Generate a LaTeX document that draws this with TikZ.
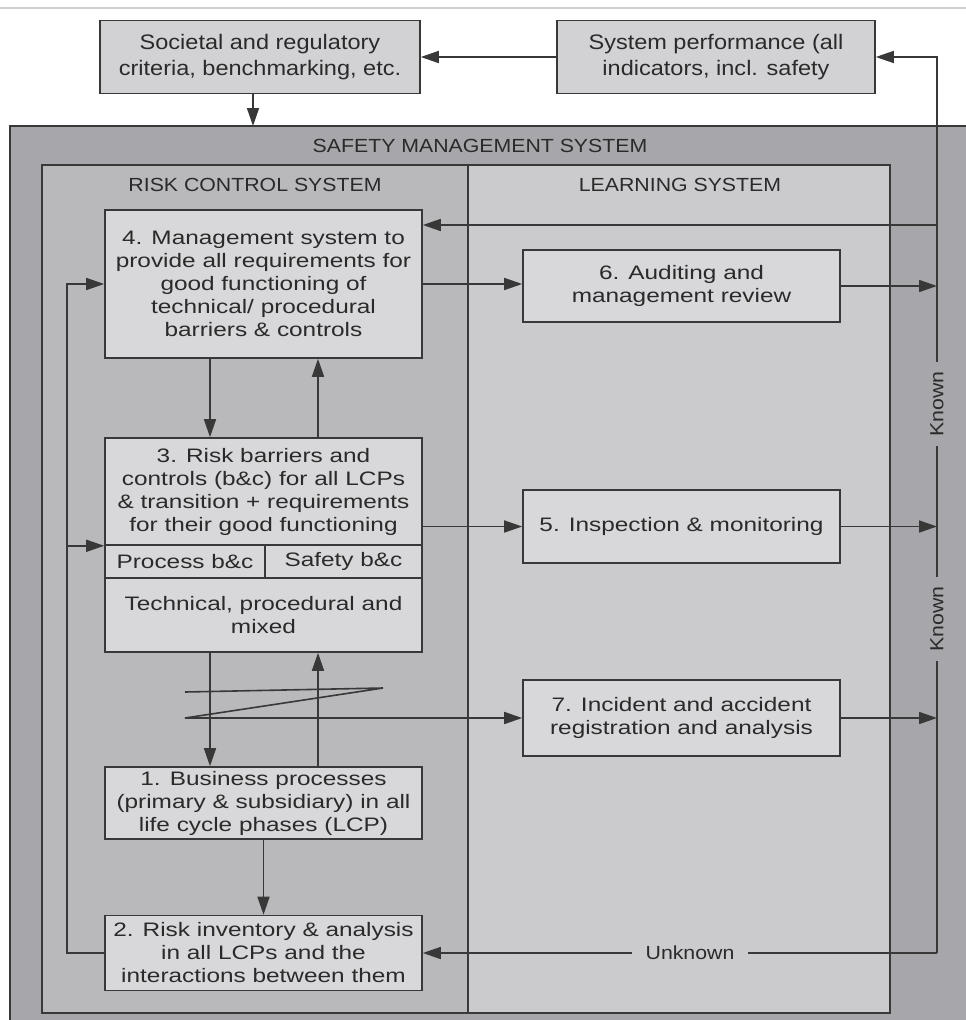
\documentclass[tikz,border=0pt]{standalone}
\usepackage{fontspec}
\usetikzlibrary{arrows.meta}
\newfontfamily\nf[FakeStretch=1.12]{Liberation Sans}
\newfontfamily\wf[FakeStretch=1.25]{Liberation Sans}
\definecolor{outercol}{HTML}{A7A7AB}
\definecolor{riskcol}{HTML}{B9B9BC}
\definecolor{learncol}{HTML}{CBCBCD}
\definecolor{boxcol}{HTML}{D8D8DA}
\definecolor{topcol}{HTML}{D2D2D4}
\definecolor{linecol}{HTML}{383838}
\definecolor{textcol}{HTML}{2A2A2A}
\tikzset{
  box/.style={draw=linecol, line width=1.6pt, fill=boxcol, inner sep=0pt, align=center,
    text=textcol, font=\fontsize{19.5}{23}\wf},
  topbox/.style={box, fill=topcol, font=\fontsize{21}{26}\nf},
  region/.style={draw=linecol, line width=1.4pt},
  title/.style={text=textcol, font=\fontsize{19}{23}\nf, inner sep=0pt},
  arr/.style={draw=linecol, line width=1.6pt, -{Triangle[length=18pt,width=12pt]}},
  lbl/.style={text=textcol, font=\fontsize{19}{23}\nf, inner sep=0pt}
}
\begin{document}
\begin{tikzpicture}[x=1pt,y=-1pt]
\useasboundingbox (0,0) rectangle (966,1020);
\fill[white] (0,0) rectangle (966,1020);
\draw[line width=2pt, draw=black!18] (0,8) -- (966,8);
% regions
\draw[region, fill=outercol] (10,126) rectangle (980,1035);
\draw[region, fill=riskcol] (42,165) rectangle (468,1013);
\draw[region, fill=learncol] (468,165) rectangle (890,1013);
\node[title] (smst) at (480,146) {SAFETY MANAGEMENT SYSTEM};
\node[title] (rcst) at (255,185) {RISK CONTROL SYSTEM};
\node[title] (lst) at (680,185) {LEARNING SYSTEM};
\coordinate (smstop) at (480,126);
% top boxes
\node[topbox, minimum width=320pt, minimum height=73pt] (soc) at (260,57) {Societal and regulatory\\criteria, benchmarking, etc.};
\node[topbox, minimum width=318pt, minimum height=73pt] (sys) at (716,57) {System performance (all\\indicators, incl. safety};
% inner boxes
\node[box, minimum width=317pt, minimum height=148pt] (b4) at (263.5,284) {4. Management system to\\provide all requirements for\\good functioning of\\technical/ procedural\\barriers \& controls};
\node[box, minimum width=317pt, minimum height=72pt] (b6) at (681.5,286) {6. Auditing and\\management review};
\node[box, minimum width=317pt, minimum height=107pt] (b3) at (263.5,491.5) {3. Risk barriers and\\controls (b\&c) for all LCPs\\\& transition + requirements\\for their good functioning};
\node[box, minimum width=160pt, minimum height=33pt] (b3p) at (185,561.5) {Process b\&c};
\node[box, minimum width=157pt, minimum height=33pt] (b3s) at (343.5,561.5) {Safety b\&c};
\node[box, minimum width=317pt, minimum height=74pt] (b3b) at (263.5,615) {Technical, procedural and\\mixed};
\node[box, minimum width=317pt, minimum height=73pt] (b5) at (681.5,526.5) {5. Inspection \& monitoring};
\node[box, minimum width=317pt, minimum height=76pt] (b7) at (681.5,718) {7. Incident and accident\\registration and analysis};
\node[box, minimum width=317pt, minimum height=72pt] (b1) at (263.5,803) {1. Business processes\\(primary \& subsidiary) in all\\life cycle phases (LCP)};
\node[box, minimum width=317pt, minimum height=75pt] (b2) at (263.5,953) {2. Risk inventory \& analysis\\in all LCPs and the\\interactions between them};
% coordinates
\coordinate (rbot) at (937,953);
\coordinate (rtop) at (937,57);
\coordinate (r4) at (937,225);
\coordinate (lx) at (67,0);
\coordinate (z1) at (185,692);
\coordinate (z2) at (383,688);
\coordinate (z3) at (185,718);
% connectors
\draw[arr] (sys.west) -- (soc.east);
\draw[arr] ([xshift=-7pt]soc.south) -- ([xshift=-7pt]soc.south |- smstop);
\draw[arr] (rbot) -- (rtop) -- (sys.east);
\draw[arr] (r4) -- (r4 -| b4.east);
\draw[arr] (b4.east) -- (b4.east -| b6.west);
\draw[arr] (b6.east) -- (b6.east -| rtop);
\draw[arr] (b5.west -| b3.east) -- (b5.west);
\draw[arr] (b5.east) -- (b5.east -| rtop);
\draw[arr] (b7.east) -- (b7.east -| rtop);
\draw[arr] ([xshift=-53.5pt]b4.south) -- ([xshift=-53.5pt]b3.north);
\draw[arr] ([xshift=54.5pt]b3.north) -- ([xshift=54.5pt]b4.south);
\draw[arr] ([xshift=-53.5pt]b3b.south) -- ([xshift=-53.5pt]b1.north);
\draw[arr] ([xshift=54.5pt]b1.north) -- ([xshift=54.5pt]b3b.south);
\draw[arr] (z1) -- (z2) -- (z3) -- (z3 -| b7.west);
\draw[arr] (b1.south) -- (b2.north);
\draw[arr] (b2.west) -- (b2.west -| lx) |- (b4.west);
\draw[arr] (b3.south west -| lx) -- (b3.south west);
\draw[arr] (rbot) -- (rbot -| b2.east);
\node[lbl, fill=learncol, inner xsep=14pt, inner ysep=4pt] (unk) at (690,953) {Unknown};
\node[lbl, fill=outercol, rotate=90, inner xsep=9pt, inner ysep=4pt] (kn1) at (937,404) {Known};
\node[lbl, fill=outercol, rotate=90, inner xsep=9pt, inner ysep=4pt] (kn2) at (937,619) {Known};
\end{tikzpicture}
\end{document}
